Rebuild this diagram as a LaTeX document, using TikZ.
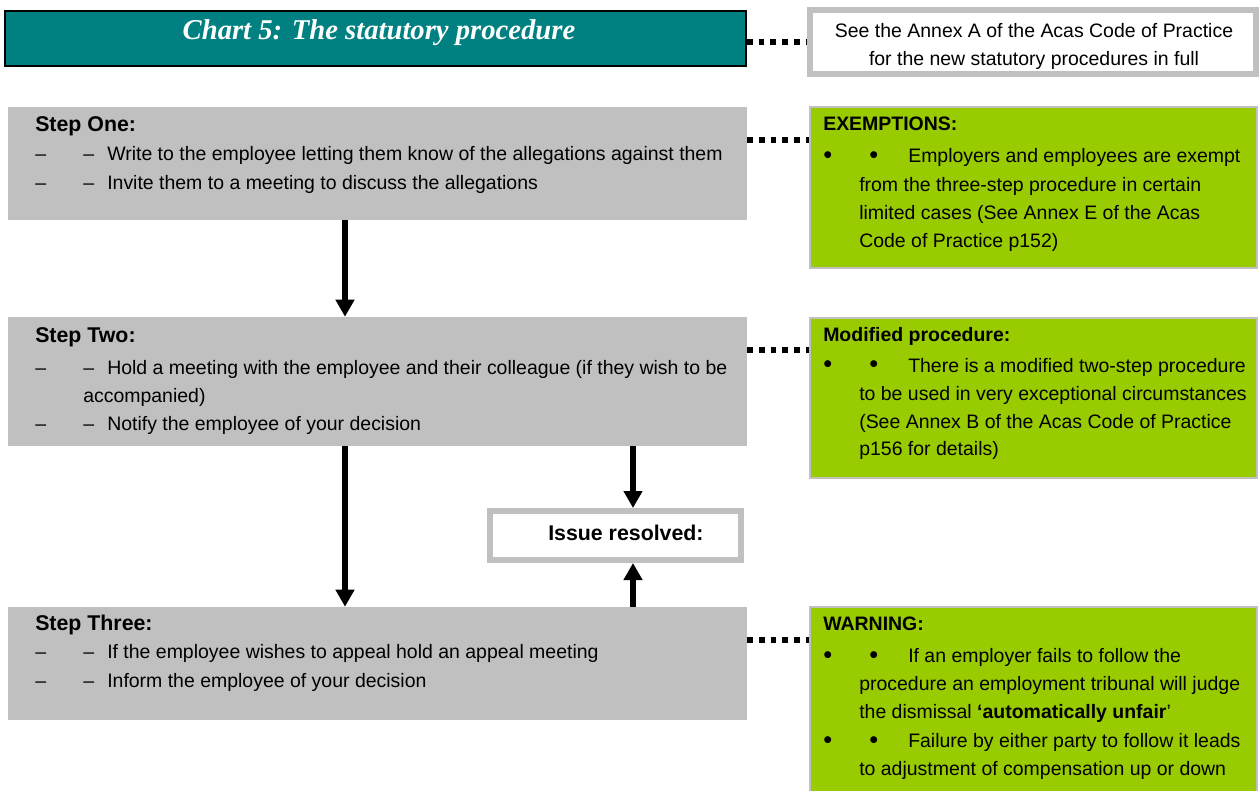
\documentclass[tikz,border=0pt]{standalone}
\usepackage{fontspec}
\setmainfont{Liberation Sans}
\newfontfamily\titlefont{Liberation Serif}
\usetikzlibrary{arrows.meta,fit}
\definecolor{tealbox}{HTML}{008080}
\definecolor{boxgray}{HTML}{C0C0C0}
\definecolor{limebox}{HTML}{99CC00}
\tikzset{
  stepbox/.style={fill=boxgray, draw=none, inner sep=0pt},
  notebox/.style={fill=limebox, draw=boxgray, line width=1.5pt, inner sep=0pt},
  framebox/.style={fill=white, draw=boxgray, line width=4.5pt, inner sep=0pt},
  body/.style={inner sep=0pt, anchor=base west, font=\fontsize{14.6}{18}\selectfont},
  bodyc/.style={inner sep=0pt, anchor=base, font=\fontsize{14.6}{18}\selectfont},
  bul/.style={inner sep=0pt, anchor=base west, font=\fontsize{19}{18}\selectfont},
  head/.style={inner sep=0pt, anchor=base west, font=\fontsize{16}{18}\selectfont\bfseries},
  nhead/.style={inner sep=0pt, anchor=base west, font=\fontsize{14.6}{18}\selectfont\bfseries},
  flow/.style={line width=4.5pt, -{Triangle[width=13.5pt,length=12.75pt]}},
  dots/.style={line width=4pt, dash pattern=on 4.3pt off 4.5pt},
}
\begin{document}
\begin{tikzpicture}[x=0.75pt,y=-0.75pt]
\useasboundingbox (0,0) rectangle (1259,791);

% title
\node[fill=tealbox, draw=black, line width=1.5pt, inner sep=0pt, fit={(5,11) (746,66)}] (title) {};
\node[inner sep=0pt, anchor=base, text=white, font=\titlefont\fontsize{21.5}{24}\selectfont\bfseries\itshape] (titletext) at (379,40) {Chart 5: The statutory procedure};

% annex box
\node[framebox, fit={(810,10) (1256,74)}] (annex) {};
\node[bodyc] (annex1) at (1034,38) {See the Annex A of the Acas Code of Practice};
\node[bodyc] (annex2) at (1034,66) {for the new statutory procedures in full};

% step boxes
\node[stepbox, fit={(8,107) (747,220)}] (s1) {};
\node[stepbox, fit={(8,317) (747,446)}] (s2) {};
\node[stepbox, fit={(8,607) (747,720)}] (s3) {};

% note boxes
\node[notebox, fit={(810,107) (1257,268)}] (ex) {};
\node[notebox, fit={(810,318) (1257,478)}] (mod) {};
\node[notebox, fit={(810,607) (1257,798)}] (warn) {};

% issue resolved
\node[framebox, fit={(490,511) (741,560)}] (issue) {};
\node[inner sep=0pt, anchor=base west, font=\fontsize{16}{18}\selectfont\bfseries] (issuetext) at (548,540) {Issue resolved:};

% step one text
\node[head] (s1h) at (35,132) {Step One:};
\node[body] (s1a0) at (35,161) {–};
\node[body] (s1a1) at (83,161) {–};
\node[body] (s1a) at (107,161) {Write to the employee letting them know of the allegations against them};
\node[body] (s1b0) at (35,190) {–};
\node[body] (s1b1) at (83,190) {–};
\node[body] (s1b) at (107,190) {Invite them to a meeting to discuss the allegations};

% step two text
\node[head] (s2h) at (35,343) {Step Two:};
\node[body] (s2a0) at (35,374) {–};
\node[body] (s2a1) at (83,374) {–};
\node[body] (s2a) at (107,374) {Hold a meeting with the employee and their colleague (if they wish to be};
\node[body] (s2a2) at (83,402) {accompanied)};
\node[body] (s2b0) at (35,430) {–};
\node[body] (s2b1) at (83,430) {–};
\node[body] (s2b) at (107,430) {Notify the employee of your decision};

% step three text
\node[head] (s3h) at (35,630) {Step Three:};
\node[body] (s3a0) at (35,658) {–};
\node[body] (s3a1) at (83,658) {–};
\node[body] (s3a) at (107,658) {If the employee wishes to appeal hold an appeal meeting};
\node[body] (s3b0) at (35,687) {–};
\node[body] (s3b1) at (83,687) {–};
\node[body] (s3b) at (107,687) {Inform the employee of your decision};

% exemptions text
\node[nhead] (exh) at (823,131) {EXEMPTIONS:};
\node[bul] (exb1) at (823,164) {•};
\node[bul] (exb2) at (869,164) {•};
\node[body] (ex1) at (908,163) {Employers and employees are exempt};
\node[body] (ex2) at (859,192) {from the three-step procedure in certain};
\node[body] (ex3) at (859,220) {limited cases (See Annex E of the Acas};
\node[body] (ex4) at (859,248) {Code of Practice p152)};

% modified text
\node[nhead] (modh) at (823,342) {Modified procedure:};
\node[bul] (modb1) at (823,373) {•};
\node[bul] (modb2) at (869,373) {•};
\node[body] (mod1) at (908,372) {There is a modified two-step procedure};
\node[body] (mod2) at (859,400) {to be used in very exceptional circumstances};
\node[body] (mod3) at (859,428) {(See Annex B of the Acas Code of Practice};
\node[body] (mod4) at (859,455) {p156 for details)};

% warning text
\node[nhead] (warnh) at (823,630) {WARNING:};
\node[bul] (wb1) at (823,663) {•};
\node[bul] (wb2) at (869,663) {•};
\node[body] (w1) at (908,662) {If an employer fails to follow the};
\node[body] (w2) at (859,690) {procedure an employment tribunal will judge};
\node[body] (w3) at (859,718) {the dismissal \textbf{‘automatically unfair}’};
\node[bul] (wb3) at (823,748) {•};
\node[bul] (wb4) at (869,748) {•};
\node[body] (w4) at (908,747) {Failure by either party to follow it leads};
\node[body] (w5) at (859,775) {to adjustment of compensation up or down};

% helper coordinates
\coordinate (d0) at (0,42);
\coordinate (d1) at (0,140);
\coordinate (d2) at (0,350);
\coordinate (d3) at (0,640);
\coordinate (ax) at (345,0);
\coordinate (bx) at (633,0);

% dotted connectors
\draw[dots] (title.east |- d0) -- (annex.west |- d0);
\draw[dots] (s1.east |- d1) -- (ex.west |- d1);
\draw[dots] (s2.east |- d2) -- (mod.west |- d2);
\draw[dots] (s3.east |- d3) -- (warn.west |- d3);

% flow arrows
\draw[flow] (s1.south -| ax) -- (s2.north -| ax);
\draw[flow] (s2.south -| ax) -- (s3.north -| ax);
\draw[flow] (s2.south -| bx) -- (issue.north -| bx);
\draw[flow] (s3.north -| bx) -- (issue.south -| bx);
\end{tikzpicture}
\end{document}
